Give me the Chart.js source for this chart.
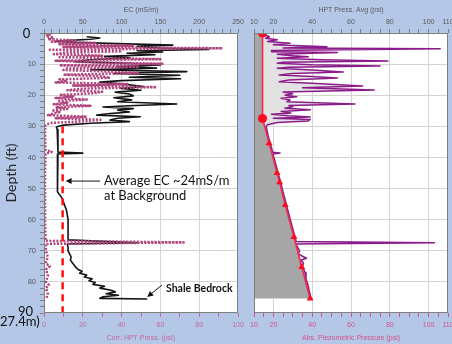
<!DOCTYPE html>
<html>
<head>
<meta charset="utf-8">
<script src="https://cdn.jsdelivr.net/npm/chart.js@4.4.1/dist/chart.umd.min.js"></script>
<style>
  html, body { margin: 0; padding: 0; background: #b4c7e7; overflow: hidden; }
  #wrap { position: relative; width: 452px; height: 344px; overflow: hidden; }
  #wrap canvas { position: absolute; left: 0; top: 0; }
</style>
</head>
<body>
<div id="wrap">
  <canvas id="right" width="460" height="344"></canvas>
  <canvas id="left" width="460" height="344"></canvas>
</div>
<script>
// EC log (mS/m) against depth (ft)
const ecDepth = [1.2,1.6,2.0,2.6,3.0,3.4,3.9,4.3,4.8,5.3,5.7,6.1,6.5,7.0,7.5,8.0,8.6,9.2,9.8,10.3,
  10.8,11.3,11.8,12.4,13.0,13.6,14.2,14.7,15.3,15.8,16.5,17.2,17.8,18.4,19.0,19.6,20.2,20.8,21.5,22.1,
  22.8,23.4,23.8,24.3,24.8,25.4,25.9,26.4,26.9,27.4,28.0,28.5,29.0,29.6,30.2,31,33,35,37,38.3,
  38.6,38.9,41,43,45,47,49,51,53,55,57,60,63,66.5,67.4,67.8,69,70,71,72,
  73,74,75,76,76.6,77.2,77.8,78.4,79,79.6,80.2,80.8,81.4,82,82.6,83.2,83.8,84.3,84.8,85.3,85.5];
const ecVals = [55,72,60,16,40,94,166,120,150,212,120,153,107,143,78,111,60,40,120,150,
  95,145,60,184,90,175,110,176,100,72,105,128,100,125,92,110,115,90,113,95,
  171,110,76,115,95,110,85,68,124,95,85,110,60,25,16,17,18,18,18,18,
  50,18,17,17,18,17,17,18,23,26,29,31,31,31,120,30,31,31,33,35,
  34,37,40,44,49,46,55,52,62,58,66,63,78,72,85,92,80,96,76,72,133];

// corrected HPT pressure (psi)
const hptDepth = [0.0,0.5,1.0,1.5,2.0,2.4,2.8,3.2,3.6,4.1,4.5,4.9,5.4,5.9,6.3,6.8,7.3,7.8,8.4,8.9,
  9.4,9.9,10.4,10.9,11.4,11.9,12.4,12.9,13.4,13.9,14.4,14.9,15.4,15.9,16.4,16.9,17.4,17.9,18.4,18.9,
  19.4,19.9,20.4,20.9,21.4,21.9,22.4,22.9,23.4,23.9,24.4,24.9,25.4,25.9,26.4,26.9,27.4,27.9,28.4,28.9,
  29.4,30,34,37.6,38.2,38.8,45,55,62,66.8,67.3,67.8,70,72,74,75,76,78,80,81,82,84,85.5];
const hptCorr = [0.5,3,1,5,2,17,4,27,8,46,10,92,3,40,12,5,30,8,60,6,
  25,61,8,49,12,10,35,49,10,30,34,8,12,6,43,15,58,20,12,30,
  25,8,15,6,22,7,12,5,24,6,12,4,8,5,2,22,6,30,20,4,
  1,0.5,0.6,0.8,4,0.8,0.5,0.5,0.6,0.8,72,0.8,1,2,0.8,3,1,2,1,2.5,1,2,1];

// HPT pressure average (psi)
const avgDepth = [0,0.6,1.2,1.7,2.2,2.7,3.3,3.8,4.4,4.8,5.1,5.6,6.0,6.3,6.8,7.3,7.6,8.1,8.6,9.0,
  9.4,9.7,10.2,10.6,11.0,11.3,11.9,12.5,13.0,13.5,14.0,14.5,15.1,15.7,16.3,17.0,17.6,18.3,19.0,19.5,
  20.0,20.5,21.0,21.5,22.1,22.8,23.3,23.7,24.2,24.7,25.2,25.7,26.1,26.6,27.0,27.4,27.8,28.3,28.8,29.5,
  30,33,36,38.3,38.6,38.9,41,44,47,50,53,56,59,62,65,67,67.4,67.8,68.5,70,
  71,72.4,73,74,75,77,79,81,83,85,85.6];
const avgPress = [15.5,15.8,18,16,22,17,28.6,20,47.6,25,106,19,19,53,22,30,38,22,45,79,
  25,22,40,75,28,22,40,56,30,23,40,53,28,23,45,66,35,72,25,30,
  26,32,24,28.6,27,62,28,30,26,39,24,29,19,28,39,20,39,37.8,22,17,
  16.3,17.3,18.6,19.6,23.4,19.7,20.7,22.0,23.3,24.5,25.8,27.0,28.3,29.6,30.9,31.7,103,31.7,32.2,33.5,
  32.8,37,34.3,35.5,35.0,36.3,36.8,37.8,38.5,39.3,40];

// absolute piezometric pressure (psi)
const piezoDepth = [0,27.5,35.4,45,48,55.3,65.6,75.2,85.3];
const piezoPress = [14.4,14.4,17.8,21.9,23.2,26.1,30.6,34.6,38.9];

// background EC marker
const AVG_EC = 24;
const avgFrom = 30, avgTo = 90;

const pts = (d, v) => d.map((y, i) => ({ x: v[i], y }));

const SANS = "'Liberation Sans', Arial, sans-serif";
const NOTE = "Lato, 'Open Sans', sans-serif";
const axisFont = { family: SANS, size: 7 };
const GRID = '#d4d4d4';
const CLEAR = 'rgba(0,0,0,0)';
const TXT = '#595959';
const PINK = '#c4679d';
const PINK_RED = '#d4508a';

const plotFrame = {
  id: 'plotFrame',
  beforeDraw(chart) {
    const a = chart.chartArea, ctx = chart.ctx;
    ctx.save();
    ctx.fillStyle = '#ffffff';
    ctx.fillRect(a.left, a.top, a.right - a.left, a.bottom - a.top);
    ctx.restore();
  },
  afterDraw(chart) {
    const a = chart.chartArea, ctx = chart.ctx;
    ctx.save();
    ctx.strokeStyle = '#7f7f7f';
    ctx.lineWidth = 1;
    ctx.strokeRect(a.left + 0.5, a.top + 0.5, a.right - a.left - 1, a.bottom - a.top - 1);
    ctx.restore();
  }
};

function arrow(ctx, x1, y1, x2, y2) {
  const ang = Math.atan2(y2 - y1, x2 - x1), len = 6, w = 3;
  ctx.beginPath();
  ctx.moveTo(x1, y1);
  ctx.lineTo(x2 - Math.cos(ang) * len, y2 - Math.sin(ang) * len);
  ctx.stroke();
  ctx.beginPath();
  ctx.moveTo(x2, y2);
  ctx.lineTo(x2 - Math.cos(ang) * len - Math.sin(ang) * w, y2 - Math.sin(ang) * len + Math.cos(ang) * w);
  ctx.lineTo(x2 - Math.cos(ang) * len + Math.sin(ang) * w, y2 - Math.sin(ang) * len - Math.cos(ang) * w);
  ctx.closePath();
  ctx.fill();
}

const notes = {
  id: 'notes',
  afterDraw(chart) {
    const ctx = chart.ctx, y = chart.scales.y, ec = chart.scales.ec;
    ctx.save();
    ctx.fillStyle = '#111';
    ctx.strokeStyle = '#111';
    ctx.lineWidth = 1;
    ctx.textBaseline = 'middle';
    ctx.textAlign = 'center';
    ctx.font = '13px ' + NOTE;
    ctx.fillText('0', 26.5, y.getPixelForValue(0) + 1);
    ctx.fillText('90', 25.5, y.getPixelForValue(90) - 1);
    ctx.textAlign = 'left';
    ctx.fillText('27.4m)', 0, 322);

    const yb = y.getPixelForValue(47.6);
    ctx.font = '13px ' + NOTE;
    ctx.fillText('Average EC ~24mS/m', 104, yb);
    ctx.fillText('at Background', 104, yb + 15);
    arrow(ctx, 100, yb, ec.getPixelForValue(AVG_EC) + 3, yb);

    const n = ecVals.length - 1;
    const ex = ec.getPixelForValue(ecVals[n]), ey = y.getPixelForValue(ecDepth[n]);
    ctx.font = 'bold 10.5px ' + NOTE;
    ctx.fillText('Shale Bedrock', 166, ey - 10);
    arrow(ctx, 162, ey - 14, ex, ey - 2);
    ctx.restore();
  }
};

const depthAxis = (showLabels) => ({
  type: 'linear', position: 'left', reverse: true, min: 0, max: 90,
  afterFit: s => { s.width = showLabels ? 44 : 0; },
  ticks: {
    display: showLabels, stepSize: showLabels ? 2 : 10, autoSkip: false,
    callback: v => (v % 10 === 0 && v > 0 && v < 90) ? v : '',
    font: { family: SANS, size: 7.5 }, color: TXT, padding: 4
  },
  grid: {
    color: c => (c.tick.value % 10 === 0 && c.tick.value > 0 && c.tick.value < 90) ? GRID : CLEAR,
    tickColor: '#7f7f7f', tickLength: 4, drawTicks: showLabels
  },
  border: { display: false },
  title: {
    display: showLabels, text: 'Depth (ft)', color: '#262626',
    font: { family: NOTE, size: 14 }, padding: { top: 3.5, bottom: 0 }
  }
});

const valueAxis = (pos, min, max, step, labelled, gridAt, title, color, tickColor) => ({
  type: 'linear', position: pos, min, max,
  afterFit: s => { s.height = pos === 'top' ? 33 : 31; },
  ticks: {
    stepSize: step, autoSkip: false, maxRotation: 0,
    callback: v => labelled(v) ? v : '',
    font: axisFont, color, padding: pos === 'top' ? 3 : 4
  },
  grid: {
    drawOnChartArea: !!gridAt,
    color: c => (gridAt && gridAt(c.tick.value)) ? GRID : CLEAR,
    tickColor, tickLength: 4
  },
  border: { display: false },
  title: {
    display: true, text: title, color, font: axisFont,
    padding: pos === 'top' ? { top: 6, bottom: 0 } : { top: 0, bottom: 2 }
  }
});

const common = {
  indexAxis: 'y', responsive: false, animation: false,
  plugins: {
    legend: { display: false }, tooltip: { enabled: false },
    filler: { propagate: false, drawTime: 'beforeDatasetsDraw' }
  },
  elements: { line: { tension: 0, borderJoinStyle: 'round' }, point: { radius: 0 } }
};

// left panel: EC and corrected HPT pressure
new Chart(document.getElementById('left'), {
  type: 'line',
  data: {
    datasets: [
      { label: 'Average EC', data: [{ x: AVG_EC, y: avgFrom }, { x: AVG_EC, y: avgTo }], xAxisID: 'ec',
        borderColor: '#ff1010', borderWidth: 2.5, borderDash: [7, 5], pointRadius: 0 },
      { label: 'Corr. HPT Press.', data: pts(hptDepth, hptCorr), xAxisID: 'hpt',
        borderColor: '#b0457e', borderWidth: 2.5, borderDash: [2, 1.5], pointRadius: 0 },
      { label: 'EC', data: pts(ecDepth, ecVals), xAxisID: 'ec',
        borderColor: '#141414', borderWidth: 1.6, pointRadius: 0 }
    ]
  },
  options: {
    ...common,
    layout: { padding: { left: 0, right: 222, top: 0, bottom: 0 } },
    scales: {
      y: depthAxis(true),
      ec: valueAxis('top', 0, 250, 10, v => v % 50 === 0, v => v % 50 === 0 && v > 0 && v < 250,
        'EC (mS/m)', TXT, '#7f7f7f'),
      hpt: valueAxis('bottom', 0, 100, 10, v => v % 20 === 0, null,
        'Corr. HPT Press. (psi)', PINK, PINK)
    }
  },
  plugins: [plotFrame, notes]
});

// right panel: HPT pressure average and piezometric pressure
const pLabels = [10, 20, 40, 60, 80, 100, 110];
new Chart(document.getElementById('right'), {
  type: 'line',
  data: {
    datasets: [
      { label: 'Abs. Piezometric Pressure', data: pts(piezoDepth, piezoPress), xAxisID: 'p',
        borderColor: '#ee2b47', borderWidth: 1.6,
        pointStyle: piezoDepth.map((d, i) => i < 2 ? 'circle' : 'triangle'),
        pointRadius: piezoDepth.map((d, i) => i < 2 ? 4.5 : 4),
        pointBackgroundColor: '#ff0a1e', pointBorderWidth: 0,
        fill: { value: 10 }, backgroundColor: '#a6a6a6' },
      { label: 'HPT Press. Avg', data: pts(avgDepth, avgPress), xAxisID: 'p',
        borderColor: '#8b1b8a', borderWidth: 1.5, pointRadius: 0,
        fill: { value: 10 }, backgroundColor: '#e2e2e2' }
    ]
  },
  options: {
    ...common,
    layout: { padding: { left: 254, right: 12, top: 0, bottom: 0 } },
    scales: {
      y: depthAxis(false),
      p: valueAxis('top', 10, 110, 5, v => pLabels.includes(v), v => v % 20 === 0 && v < 110,
        'HPT Press. Avg (psi)', TXT, '#7f7f7f'),
      pb: valueAxis('bottom', 10, 110, 5, v => pLabels.includes(v), null,
        'Abs. Piezometric Pressure (psi)', PINK_RED, PINK_RED)
    }
  },
  plugins: [plotFrame]
});
</script>
</body>
</html>
